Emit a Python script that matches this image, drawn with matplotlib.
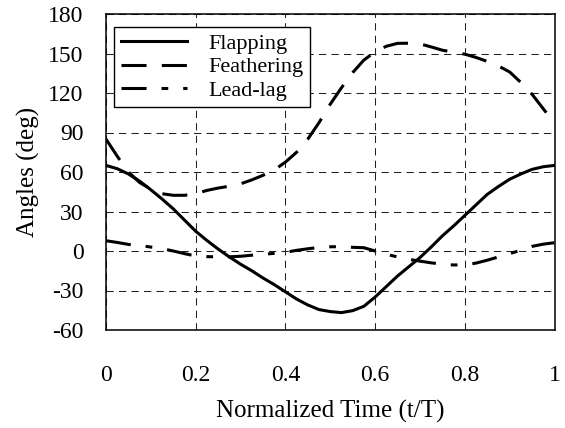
import matplotlib
matplotlib.use("Agg")
import matplotlib.pyplot as plt

time = [0.0, 0.025, 0.05, 0.075, 0.1, 0.125, 0.15, 0.175, 0.2, 0.225,
        0.25, 0.275, 0.3, 0.325, 0.35, 0.375, 0.4, 0.425, 0.45, 0.475,
        0.5, 0.525, 0.55, 0.575, 0.6, 0.625, 0.65, 0.675, 0.7, 0.725,
        0.75, 0.775, 0.8, 0.825, 0.85, 0.875, 0.9, 0.925, 0.95, 0.975, 1.0]
flapping = [65, 62.5, 58.5, 53, 46.5, 39.5, 32, 23.5, 15, 8,
            1.5, -4.5, -10, -15, -20.5, -25.5, -31, -36.5, -41, -44.5,
            -46, -46.8, -45.3, -42, -35, -27, -19, -12, -5, 3,
            11.5, 19, 27, 35, 43, 49, 54.5, 58.5, 62, 64, 65]
feathering = [85, 72, 60, 52, 47, 43.5, 42.3, 42.3, 43.5, 46,
              47.8, 49.2, 51, 54, 57.5, 61.5, 67.5, 75, 85, 97.5,
              111.5, 124, 135.5, 145, 151.3, 155.5, 157.7, 157.8, 157.3, 155,
              152.5, 151, 149.5, 147, 144, 140.5, 136, 128, 119, 108, 97]
leadlag = [7.8, 6.5, 5, 4.2, 3, 1.8, 0, -2, -3.8, -4.3,
           -4.4, -4.4, -4, -3.2, -2.5, -1.8, -1, 0.5, 1.7, 2.7,
           3.2, 3.3, 2.8, 2.5, 0, -2.5, -4.5, -6.3, -7.7, -9,
           -10, -10.6, -10.5, -9.2, -7, -4.5, -2, 0.6, 3.5, 5.2, 6.3]

series_labels = ["Flapping", "Feathering", "Lead-lag"]
xticks = [0, 0.2, 0.4, 0.6, 0.8, 1]
xticklabels = ["0", "0.2", "0.4", "0.6", "0.8", "1"]
yticks = [-60, -30, 0, 30, 60, 90, 120, 150, 180]

plt.rcParams['font.family'] = ['Liberation Serif', 'DejaVu Serif']
plt.rcParams['axes.unicode_minus'] = False

fig = plt.figure(figsize=(5.65, 4.28), dpi=100)
ax = fig.add_axes([106/565, 1 - 330/428, (554.5-106)/565, (330-14)/428])

lw = 2.2
ax.plot(time, flapping, color='black', lw=lw, linestyle='-', label=series_labels[0])
ax.plot(time, feathering, color='black', lw=lw, linestyle=(0, (8.2, 5)), label=series_labels[1])
ax.plot(time, leadlag, color='black', lw=lw, linestyle=(0, (8.2, 4.9, 2.2, 4.9)), label=series_labels[2])

ax.set_xlim(0, 1)
ax.set_ylim(-60, 180)
ax.set_xticks(xticks)
ax.set_xticklabels(xticklabels)
ax.set_yticks(yticks)
ax.tick_params(axis='both', length=0, labelsize=17)
ax.tick_params(axis='x', pad=25)
ax.tick_params(axis='y', pad=16)

ax.grid(True, color='#222222', lw=0.75, linestyle=(0, (7, 5)))
ax.set_axisbelow(True)
for s in ax.spines.values():
    s.set_linewidth(1.1)
    s.set_color('black')

ax.set_xlabel("Normalized Time (t/T)", fontsize=18, labelpad=10)
ax.set_ylabel("Angles (deg)", fontsize=18, labelpad=6)

leg = ax.legend(loc='upper left', bbox_to_anchor=(0.018, 0.959), borderaxespad=0,
                fontsize=16, frameon=True, fancybox=False, framealpha=1,
                edgecolor='black', handlelength=3.0, handletextpad=0.95,
                labelspacing=0.12, borderpad=0.3)
leg.get_frame().set_linewidth(1.0)

fig.savefig("out.png", dpi=100)
